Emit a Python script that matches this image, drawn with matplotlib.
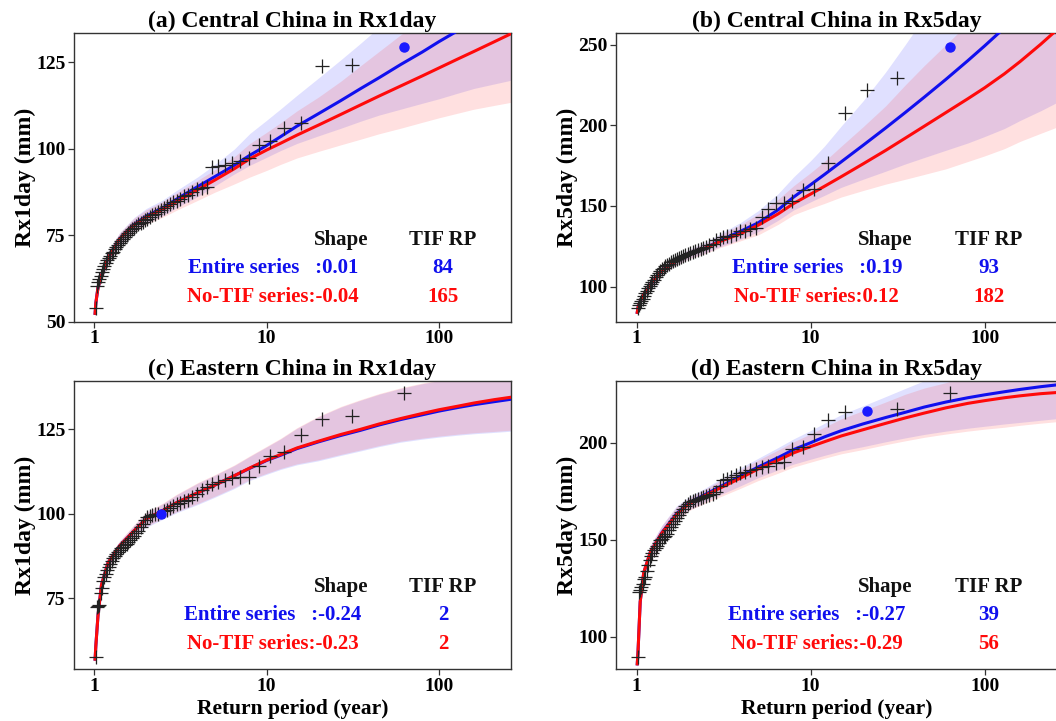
import matplotlib
matplotlib.use("Agg")
import matplotlib.pyplot as plt

plt.rcParams['font.family'] = ['Liberation Serif', 'DejaVu Serif']
plt.rcParams['font.weight'] = 'bold'

# return period of each ranked observation (62 years)
obs_rp = [63.0, 31.5, 21.0, 15.75, 12.6, 10.5, 9.0, 7.875, 7.0, 6.3,
          5.727, 5.25, 4.846, 4.5, 4.2, 3.9375, 3.706, 3.5, 3.316, 3.15,
          3.0, 2.864, 2.739, 2.625, 2.52, 2.423, 2.333, 2.25, 2.172, 2.1,
          2.032, 1.969, 1.909, 1.853, 1.8, 1.75, 1.703, 1.658, 1.615, 1.575,
          1.537, 1.5, 1.465, 1.432, 1.4, 1.370, 1.340, 1.3125, 1.286, 1.26,
          1.235, 1.212, 1.189, 1.167, 1.145, 1.125, 1.105, 1.086, 1.068, 1.05,
          1.033, 1.016]

# observed values sorted from largest to smallest
obs_a = [129.5, 124.2, 123.9, 107.4, 106.2, 102.4, 101.0, 97.3, 96.6, 95.9,
         95.3, 95.0, 94.8, 89.0, 88.8, 88.5, 87.6, 86.8, 86.4, 85.6,
         85.0, 84.6, 84.0, 83.4, 82.9, 82.3, 81.8, 81.2, 80.8, 80.3,
         79.8, 79.4, 79.0, 78.6, 78.2, 77.8, 77.2, 76.8, 76.3, 75.7,
         75.2, 74.6, 73.9, 73.4, 72.8, 72.2, 71.6, 71.0, 70.3, 69.8,
         69.2, 68.5, 67.8, 67.0, 66.2, 65.4, 64.4, 63.3, 62.3, 61.5,
         60.5, 54.0]
obs_b = [248.5, 229.0, 221.7, 207.3, 176.8, 160.7, 159.9, 152.8, 152.0, 151.6,
         148.0, 143.0, 136.0, 135.7, 134.7, 134.3, 132.7, 131.6, 131.2, 130.6,
         129.6, 128.6, 126.5, 125.5, 124.5, 124.0, 123.2, 122.5, 121.8, 121.2,
         120.6, 120.0, 119.5, 118.9, 118.3, 117.7, 117.0, 116.3, 115.6, 114.9,
         114.2, 113.5, 112.6, 111.6, 110.8, 109.6, 108.4, 107.0, 105.6, 104.2,
         102.9, 101.6, 100.2, 98.8, 97.3, 95.8, 94.2, 92.5, 91.0, 89.8,
         88.5, 86.5]
obs_c = [135.8, 128.9, 128.0, 123.3, 118.4, 117.1, 114.3, 111.0, 111.0, 110.5,
         110.0, 109.5, 108.8, 108.0, 107.0, 106.0, 105.0, 104.2, 103.7, 103.2,
         102.8, 102.3, 101.8, 101.2, 100.7, 100.1, 100.0, 99.9, 99.7, 99.5,
         99.0, 98.3, 97.0, 96.0, 95.0, 94.2, 93.5, 92.8, 92.2, 91.6,
         91.2, 90.8, 90.3, 89.8, 89.3, 88.7, 88.1, 87.5, 86.8, 86.0,
         85.2, 84.3, 83.3, 82.3, 81.2, 80.0, 78.2, 76.5, 73.0, 72.8,
         72.5, 57.5]
obs_d = [225.8, 217.3, 216.5, 216.0, 211.8, 204.5, 197.8, 197.0, 190.0, 189.4,
         188.0, 187.5, 186.3, 185.8, 185.0, 184.3, 183.5, 182.6, 181.5, 180.8,
         177.5, 174.5, 173.6, 172.9, 172.3, 171.8, 171.3, 170.9, 170.5, 170.0,
         169.3, 168.5, 167.5, 166.0, 164.5, 163.0, 161.0, 159.8, 158.0, 156.5,
         155.0, 153.0, 152.0, 151.3, 150.5, 149.8, 148.5, 147.0, 145.5, 144.5,
         143.0, 141.5, 139.5, 137.0, 134.0, 131.0, 129.5, 127.0, 125.5, 124.0,
         123.0, 89.5]
tif_rank = [1, 1, 26, 3]

# fitted return levels (entire series = blue, no-TIF series = red) and 95% bands
fit_rp = [1.01, 1.02, 1.05, 1.1, 1.2, 1.4, 1.7, 2, 2.5, 3, 4, 5, 6.5, 8, 10, 12,
          15, 20, 27, 35, 45, 60, 80, 100, 130, 160, 210, 270]

blue_a = [52.5, 55.5, 60.0, 63.5, 68.5, 74.0, 78.2, 80.6, 83.0, 85.5, 89.2, 92.0, 95.3, 98.2, 101.0, 103.5,
          106.6, 110.2, 114.0, 117.4, 120.6, 124.4, 128.0, 131.0, 134.3, 137.0, 140.6, 144.0]
blue_a_hi = [54.0, 57.0, 61.5, 65.0, 70.3, 75.8, 80.2, 82.8, 85.3, 88.0, 92.0, 95.5, 100.0, 104.5, 108.3, 111.5,
             115.5, 120.5, 125.8, 130.5, 135.2, 141.0, 146.5, 151.0, 155.7, 160.0, 165.0, 170.0]
blue_a_lo = [51.0, 54.0, 58.5, 62.0, 66.8, 72.2, 76.3, 78.5, 80.8, 83.0, 86.3, 89.3, 92.8, 95.3, 97.6, 99.5,
             101.6, 103.8, 106.0, 108.0, 109.8, 111.5, 113.2, 114.5, 116.2, 117.5, 118.8, 120.0]
red_a = [52.5, 55.5, 60.0, 63.5, 68.5, 74.0, 78.0, 80.3, 82.6, 84.8, 88.3, 91.0, 94.3, 97.2, 99.7, 101.6,
         104.0, 106.9, 110.0, 112.7, 115.3, 118.2, 121.1, 123.4, 126.1, 128.2, 131.0, 133.6]
red_a_hi = [54.0, 57.0, 61.5, 65.0, 70.2, 75.7, 80.0, 82.4, 84.8, 87.3, 91.0, 94.0, 97.8, 101.6, 104.8, 107.5,
            111.0, 115.0, 119.6, 124.0, 128.2, 133.0, 137.5, 141.0, 145.0, 148.5, 152.5, 156.0]
red_a_lo = [51.0, 54.0, 58.5, 62.0, 66.7, 72.2, 76.0, 78.2, 80.3, 82.3, 85.2, 87.5, 89.9, 91.9, 93.8, 95.5,
            97.4, 99.3, 101.2, 102.8, 104.4, 106.0, 107.7, 109.0, 110.4, 111.5, 112.6, 113.6]

blue_b = [84.0, 87.0, 91.0, 95.0, 101.0, 110.0, 116.2, 120.3, 124.0, 128.3, 134.5, 139.5, 147.5, 155.5, 163.1, 169.4,
          177.3, 187.5, 198.3, 207.9, 217.4, 228.5, 240.0, 249.2, 260.4, 269.6, 282.1, 294.1]
blue_b_hi = [86.0, 89.0, 93.0, 97.0, 103.5, 112.5, 119.0, 123.0, 127.5, 132.5, 140.0, 147.0, 157.5, 168.0, 178.0, 187.0,
             199.5, 215.0, 233.0, 250.0, 267.0, 290.0, 312.0, 330.0, 350.0, 370.0, 395.0, 420.0]
blue_b_lo = [82.0, 85.0, 89.0, 93.0, 98.5, 107.5, 113.5, 117.5, 121.0, 124.5, 129.5, 134.0, 141.0, 147.5, 152.5, 156.5,
             161.5, 166.5, 171.5, 176.0, 180.0, 184.5, 189.0, 193.0, 198.0, 203.0, 209.0, 215.0]
red_b = [84.0, 87.0, 91.0, 95.0, 101.0, 110.0, 116.0, 120.0, 124.0, 127.8, 133.0, 138.0, 145.0, 151.5, 157.3, 162.1,
         168.1, 176.0, 184.4, 192.0, 199.4, 207.9, 216.4, 223.2, 231.9, 239.5, 250.2, 260.7]
red_b_hi = [86.0, 89.0, 93.0, 97.0, 103.5, 112.5, 118.8, 122.8, 127.0, 131.8, 138.5, 145.0, 154.0, 162.5, 170.5, 177.5,
            187.0, 199.0, 212.0, 225.0, 237.0, 250.0, 263.0, 275.0, 288.0, 300.0, 315.0, 330.0]
red_b_lo = [82.0, 85.0, 89.0, 93.0, 98.5, 107.5, 113.3, 117.2, 120.5, 124.0, 128.5, 132.0, 138.5, 144.5, 148.5, 151.5,
            155.5, 159.5, 163.5, 166.5, 169.5, 173.0, 177.5, 181.0, 185.5, 190.0, 195.0, 199.5]

blue_c = [57.0, 61.0, 70.0, 79.0, 85.5, 90.5, 95.0, 98.5, 101.0, 103.3, 106.3, 108.5, 111.3, 113.5, 115.8, 117.3,
          119.3, 121.3, 123.2, 124.7, 126.3, 127.9, 129.3, 130.4, 131.5, 132.3, 133.2, 134.0]
blue_c_hi = [58.3, 62.3, 71.3, 80.3, 86.8, 91.8, 96.6, 100.3, 103.0, 105.6, 109.1, 111.4, 114.3, 117.0, 119.8, 122.1,
             125.3, 128.7, 131.6, 133.6, 135.4, 137.1, 138.5, 139.4, 140.4, 141.3, 142.1, 142.8]
blue_c_lo = [55.7, 59.7, 68.7, 77.7, 84.2, 89.2, 93.4, 96.0, 98.4, 100.3, 102.8, 104.9, 107.5, 109.9, 111.7, 113.1,
             114.5, 115.7, 117.3, 118.6, 119.9, 121.2, 122.1, 122.7, 123.3, 123.7, 124.1, 124.5]
red_c = [57.0, 61.0, 70.0, 79.0, 85.5, 90.5, 95.0, 98.5, 101.0, 103.3, 106.3, 108.5, 111.3, 113.6, 115.9, 117.5,
         119.5, 121.5, 123.5, 125.0, 126.6, 128.2, 129.7, 130.8, 131.9, 132.8, 133.8, 134.6]
red_c_hi = [58.5, 62.5, 71.5, 80.5, 87.0, 92.0, 96.8, 100.5, 103.2, 105.8, 109.3, 111.6, 114.5, 117.2, 120.0, 122.3,
            125.5, 128.9, 131.8, 133.8, 135.6, 137.3, 138.7, 139.6, 140.6, 141.5, 142.3, 143.0]
red_c_lo = [55.5, 59.5, 68.5, 77.5, 84.0, 89.0, 93.2, 96.3, 98.7, 100.6, 103.1, 105.2, 107.8, 110.2, 112.0, 113.4,
            114.8, 116.0, 117.6, 118.9, 120.2, 121.5, 122.4, 123.0, 123.6, 124.0, 124.4, 124.8]

blue_d = [86.0, 92.0, 118.0, 133.0, 143.5, 153.7, 163.5, 169.0, 173.5, 177.2, 183.0, 187.5, 192.3, 196.5, 200.0, 203.0,
          206.2, 209.7, 213.0, 215.7, 218.4, 221.0, 223.2, 224.7, 226.3, 227.5, 228.9, 230.0]
blue_d_hi = [88.0, 94.0, 121.0, 136.0, 147.0, 157.5, 167.5, 172.0, 176.8, 181.0, 187.3, 192.0, 197.5, 202.0, 206.3, 210.0,
             214.5, 219.0, 223.8, 228.0, 232.0, 236.0, 239.5, 242.0, 244.7, 247.0, 249.7, 252.0]
blue_d_lo = [84.0, 90.0, 115.0, 130.0, 140.0, 150.0, 159.5, 165.5, 169.8, 173.0, 178.0, 182.0, 186.0, 189.0, 191.5, 193.5,
             195.8, 198.0, 200.5, 202.5, 204.3, 206.0, 207.5, 208.5, 209.7, 210.5, 211.6, 212.6]
red_d = [86.0, 92.0, 118.0, 133.0, 143.5, 153.5, 163.0, 168.5, 173.0, 176.5, 182.0, 186.5, 191.0, 194.8, 198.0, 200.5,
         203.5, 206.7, 210.0, 212.8, 215.3, 218.0, 220.3, 221.7, 223.2, 224.2, 225.3, 226.0]
red_d_hi = [88.0, 94.0, 121.0, 136.0, 147.0, 157.3, 167.0, 171.5, 176.2, 180.3, 186.3, 191.0, 196.2, 200.5, 204.5, 208.0,
            212.3, 216.5, 221.0, 225.0, 228.2, 231.0, 234.5, 237.0, 239.7, 242.0, 244.2, 246.0]
red_d_lo = [84.0, 90.0, 115.0, 130.0, 140.0, 149.8, 159.0, 165.0, 169.0, 172.0, 176.7, 180.5, 184.3, 187.5, 190.0, 192.0,
            194.3, 196.5, 199.0, 201.0, 202.8, 204.5, 206.0, 207.0, 208.0, 209.0, 210.1, 211.0]

titles = ['(a) Central China in Rx1day', '(b) Central China in Rx5day',
          '(c) Eastern China in Rx1day', '(d) Eastern China in Rx5day']
ylabels = ['Rx1day (mm)', 'Rx5day (mm)', 'Rx1day (mm)', 'Rx5day (mm)']
shape_entire = ['0.01', '0.19', '-0.24', '-0.27']
shape_notif = ['-0.04', '0.12', '-0.23', '-0.29']
tif_rp_entire = ['84', '93', '2', '39']
tif_rp_notif = ['165', '182', '2', '56']
yticks = [[50, 75, 100, 125], [100, 150, 200, 250], [75, 100, 125], [100, 150, 200]]
ylims = [(50, 133.5), (78, 257.2), (54, 139.4), (83.2, 232)]

panels = [
    (obs_a, blue_a, blue_a_lo, blue_a_hi, red_a, red_a_lo, red_a_hi),
    (obs_b, blue_b, blue_b_lo, blue_b_hi, red_b, red_b_lo, red_b_hi),
    (obs_c, blue_c, blue_c_lo, blue_c_hi, red_c, red_c_lo, red_c_hi),
    (obs_d, blue_d, blue_d_lo, blue_d_hi, red_d, red_d_lo, red_d_hi),
]

BLUE = '#1010ee'
RED = '#ff0a0a'

fig = plt.figure(figsize=(10.56, 7.21), dpi=100)
rects = [[0.0701, 0.5534, 0.4138, 0.4008], [0.5833, 0.5534, 0.4180, 0.4008],
         [0.0701, 0.0717, 0.4138, 0.4003], [0.5833, 0.0717, 0.4180, 0.4003]]

for k, (obs, bl, bl_lo, bl_hi, rd, rd_lo, rd_hi) in enumerate(panels):
    ax = fig.add_axes(rects[k])
    ax.fill_between(fit_rp, bl_lo, bl_hi, color='#3030ff', alpha=0.15, lw=0)
    ax.fill_between(fit_rp, rd_lo, rd_hi, color='#ff3030', alpha=0.15, lw=0)
    ax.plot(fit_rp, bl, color=BLUE, lw=2.2, zorder=3)
    ax.plot(fit_rp, rd, color=RED, lw=2.2, zorder=3)

    ti = tif_rank[k] - 1
    xs = [t for i, t in enumerate(obs_rp) if i != ti]
    ys = [v for i, v in enumerate(obs) if i != ti]
    ax.plot(xs, ys, ls='none', marker='+', ms=10, mew=0.9, color='#222222', zorder=4)
    ax.plot(obs_rp[ti], obs[ti], ls='none', marker='o', ms=6.5, color='#1a1aff', zorder=5)

    ax.set_xscale('log')
    ax.set_xlim(0.762, 262)
    ax.set_ylim(*ylims[k])
    ax.set_xticks([1, 10, 100])
    ax.set_xticklabels(['1', '10', '100'])
    ax.minorticks_off()
    ax.set_yticks(yticks[k])
    ax.tick_params(labelsize=14, length=4, width=0.9, color='#333333', pad=2)
    for s in ax.spines.values():
        s.set_color('#333333')
        s.set_linewidth(1.0)

    ax.set_title(titles[k], fontsize=17, fontweight='bold', pad=4)
    ax.set_ylabel(ylabels[k], fontsize=17, fontweight='bold', labelpad=0)
    if k >= 2:
        ax.set_xlabel('Return period (year)', fontsize=15.5, fontweight='bold', labelpad=3)

    tr = ax.transAxes
    ax.text(0.611, 0.284, 'Shape', transform=tr, ha='center', va='center', fontsize=15, color='#111111')
    ax.text(0.844, 0.284, 'TIF RP', transform=tr, ha='center', va='center', fontsize=15, color='#111111')
    ax.text(0.455, 0.187, 'Entire series   :' + shape_entire[k], transform=tr,
            ha='center', va='center', fontsize=15, color=BLUE)
    ax.text(0.455, 0.087, 'No-TIF series:' + shape_notif[k], transform=tr,
            ha='center', va='center', fontsize=15, color=RED)
    ax.text(0.844, 0.187, tif_rp_entire[k], transform=tr, ha='center', va='center', fontsize=15, color=BLUE)
    ax.text(0.844, 0.087, tif_rp_notif[k], transform=tr, ha='center', va='center', fontsize=15, color=RED)

fig.savefig('out.png', dpi=100)
